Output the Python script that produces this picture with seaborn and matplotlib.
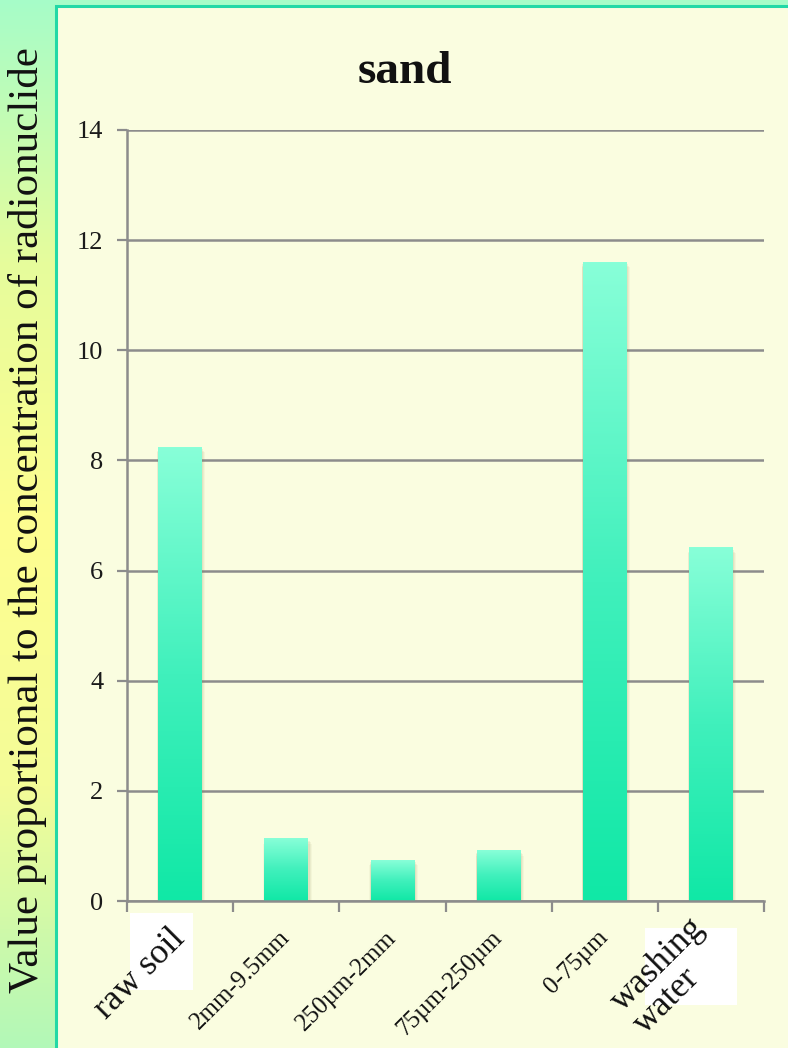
import numpy as np
import pandas as pd
import matplotlib
matplotlib.use("Agg")
import matplotlib.pyplot as plt
from matplotlib.colors import LinearSegmentedColormap
from matplotlib.patches import Rectangle
import seaborn as sns

# Radionuclide concentration by particle size fraction (sand)
categories = ["raw soil", "2mm-9.5mm", "250µm-2mm", "75µm-250µm", "0-75µm", "washing\nwater"]
values = [8.24, 1.13, 0.74, 0.91, 11.6, 6.41]
yticks = [0, 2, 4, 6, 8, 10, 12, 14]

sns.set_theme(style="white")
plt.rcParams["font.family"] = ["Liberation Serif", "DejaVu Serif"]

W, H = 788, 1048
fig = plt.figure(figsize=(W / 100, H / 100), dpi=100)

# Slide background: green-yellow-green vertical gradient
bg = fig.add_axes([0, 0, 1, 1], zorder=-10)
bg_cmap = LinearSegmentedColormap.from_list(
    "bg", ["#b2f8b8", "#f4fc98", "#fefe90", "#e6fc9c", "#a6fcc8"])
bg.imshow(np.linspace(0, 1, 256).reshape(-1, 1), aspect="auto", cmap=bg_cmap,
          extent=[0, 1, 0, 1], origin="lower")
bg.set_axis_off()

# Chart panel with green border
panel = Rectangle((56 / W, -0.01), 1.0, 1 - 6 / H + 0.01, transform=fig.transFigure,
                  facecolor="#fafde0", edgecolor="#22d8a6", linewidth=2.2, zorder=-5)
fig.patches.append(panel)

# White label boxes behind the long category labels
for (x0, y0, x1, y1) in [(130, 913, 193, 990), (645, 928, 737, 1005)]:
    fig.patches.append(Rectangle((x0 / W, 1 - y1 / H), (x1 - x0) / W, (y1 - y0) / H,
                                 transform=fig.transFigure, facecolor="white",
                                 edgecolor="none", zorder=-4))

ax = fig.add_axes([127 / W, 1 - 901 / H, (764 - 127) / W, (901 - 130) / H])
ax.patch.set_alpha(0)

df = pd.DataFrame({"fraction": categories, "value": values})
sns.barplot(data=df, x="fraction", y="value", ax=ax, width=0.41,
            color="#40eeb8", saturation=1, zorder=3)

bar_cmap = LinearSegmentedColormap.from_list("bar", ["#10e8a6", "#40f0bc", "#88ffd8"])
grad = np.linspace(0, 1, 256).reshape(-1, 1)
for p in list(ax.patches):
    x, w, h = p.get_x(), p.get_width(), p.get_height()
    p.set_facecolor("none")
    p.set_edgecolor("none")
    # soft drop shadow
    for k, a in enumerate([0.10, 0.08, 0.06]):
        dx = 0.012 + 0.008 * k
        dy = 0.05 + 0.03 * k
        ax.add_patch(Rectangle((x - dx * 0.4, -dy), w + dx * 1.6, h + dy * 0.2,
                               facecolor="#8a8a50", edgecolor="none", alpha=a, zorder=2))
    ax.imshow(grad, aspect="auto", cmap=bar_cmap, extent=[x, x + w, 0, h],
              origin="lower", zorder=4)

ax.set_xlim(-0.5, len(categories) - 0.5)
ax.set_ylim(0, 14)
ax.set_yticks(yticks)

# gridlines and axes
ax.yaxis.grid(True, color="#8c8c8c", linewidth=1.8)
ax.set_axisbelow(True)
for s in ["top", "right"]:
    ax.spines[s].set_visible(False)
for s in ["left", "bottom"]:
    ax.spines[s].set_color("#8c8c8c")
    ax.spines[s].set_linewidth(1.8)
    ax.spines[s].set_zorder(5)

ax.tick_params(axis="y", which="both", length=7, width=1.6, color="#8c8c8c",
               pad=10, left=True)
ax.set_yticklabels([str(t) for t in yticks], fontsize=19, color="#1a1a1a")

# category-boundary ticks on the x axis
ax.set_xticks(np.arange(-0.5, len(categories)), minor=True)
ax.tick_params(axis="x", which="minor", length=8, width=1.6, color="#8c8c8c",
               bottom=True, direction="out")
ax.set_xticks(range(len(categories)))
ax.tick_params(axis="x", which="major", length=0, pad=24)
ax.set_xticklabels(categories, rotation=45, ha="right", va="center",
                   rotation_mode="anchor", color="#111111")
labels = ax.get_xticklabels()
for i, lbl in enumerate(labels):
    if i in (0, len(categories) - 1):
        lbl.set_fontsize(25.5)
    else:
        lbl.set_fontsize(18)
labels[-1].set_multialignment("left")
labels[-1].set_linespacing(1.0)
ax.set_xlabel("")
ax.set_ylabel("")

fig.text(405 / W, 1 - 72 / H, "sand", ha="center", va="center",
         fontsize=34, fontweight="bold", color="#111111")

fig.text(28 / W, 0.504, "Value proportional to the concentration of radionuclide",
         rotation=90, ha="center", va="center", fontsize=31, color="#111111")

fig.savefig("out.png", dpi=100)
